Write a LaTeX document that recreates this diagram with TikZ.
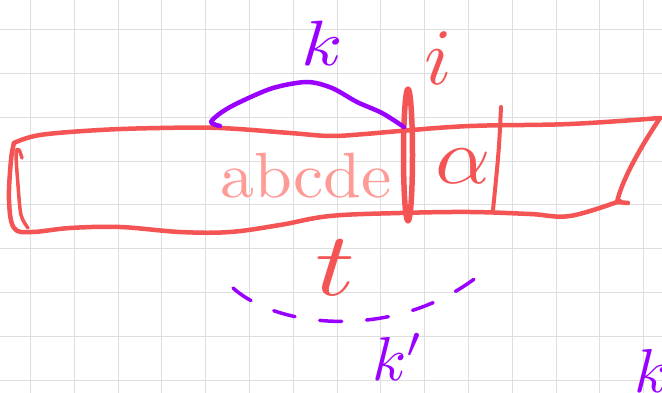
\documentclass[tikz,border=0pt]{standalone}
\usepackage{xcolor}
\definecolor{pen}{HTML}{F55454}
\definecolor{inkpurple}{HTML}{9A00FF}
\definecolor{pinkpen}{HTML}{FF9B96}
\definecolor{gridc}{HTML}{DEDEDE}
\begin{document}
\begin{tikzpicture}[x=1pt,y=-1pt, line cap=round, line join=round,
  redpen/.style={draw=pen,line width=4.5pt},
  purplepen/.style={draw=inkpurple,line width=4.5pt},
  gridline/.style={draw=gridc,line width=1pt},
  lbl/.style={inner sep=0pt, outer sep=0pt}]
\useasboundingbox (0,0) rectangle (662,393);
\clip (0,0) rectangle (662,393);
\fill[white] (0,0) rectangle (662,393);
% grid
\foreach \i in {0,...,14} \draw[gridline] ({30.5+43.8*\i},0) -- ({30.5+43.8*\i},393);
\foreach \j in {0,...,8} \draw[gridline] (0,{29.7+43.8*\j}) -- (662,{29.7+43.8*\j});
% tape
\draw[redpen] plot[smooth, tension=0.6] coordinates {(14,143) (40,135) (100,130) (160,128) (220,128) (290,133) (330,136) (365,134) (400,131) (470,126) (570,124) (660,118)};
\draw[redpen] (660,118) .. controls (640,148) and (622,180) .. (617,202) -- (628,203);
\draw[redpen] plot[smooth, tension=0.6] coordinates {(620,201) (570,216) (530,214) (470,212) (400,213) (330,216) (280,225) (230,232) (180,232) (120,227) (70,228) (32,232) (14,228) (9,200) (11,160) (14,143)};
\draw[redpen, line width=3.5pt] plot[smooth] coordinates {(22,158) (19,150) (16,153) (18,185) (21,215) (28,228)};
% cell divider
\draw[redpen, line width=4pt] (501,107) .. controls (499,150) .. (493,210);
% head
\draw[redpen, line width=5.5pt] (408,155) ellipse [x radius=4.5, y radius=66];
% arc k
\draw[purplepen] plot[smooth] coordinates {(220,126) (211,122) (222,112) (240,102) (273,88) (307,82) (332,88) (357,102) (382,113) (404,127)};
% dashed arc k'
\draw[inkpurple, line width=3.5pt, dash pattern=on 22pt off 25pt] (233,288) .. controls (280,330) and (400,340) .. (482,273);
% labels
\node[lbl, text=inkpurple, xscale=7.5, yscale=6.4] (ktop) at (322,43) {$k$};
\node[lbl, text=pen, scale=8] (itop) at (438,58) {$i$};
\node[lbl, text=pen, xscale=8.6, yscale=8] (alpha) at (463,166) {$\alpha$};
\node[lbl, text=pinkpen, xscale=6.8, yscale=6.4] (letters) at (306,176) {abcde};
\node[lbl, text=pen, xscale=11, yscale=9] (tlbl) at (335,268) {$t$};
\node[lbl, text=inkpurple, scale=6.2] (kprime) at (398,357) {$k'$};
\node[lbl, text=inkpurple, scale=6.2, anchor=north west] (kright) at (634,349) {$k$};
\end{tikzpicture}
\end{document}
